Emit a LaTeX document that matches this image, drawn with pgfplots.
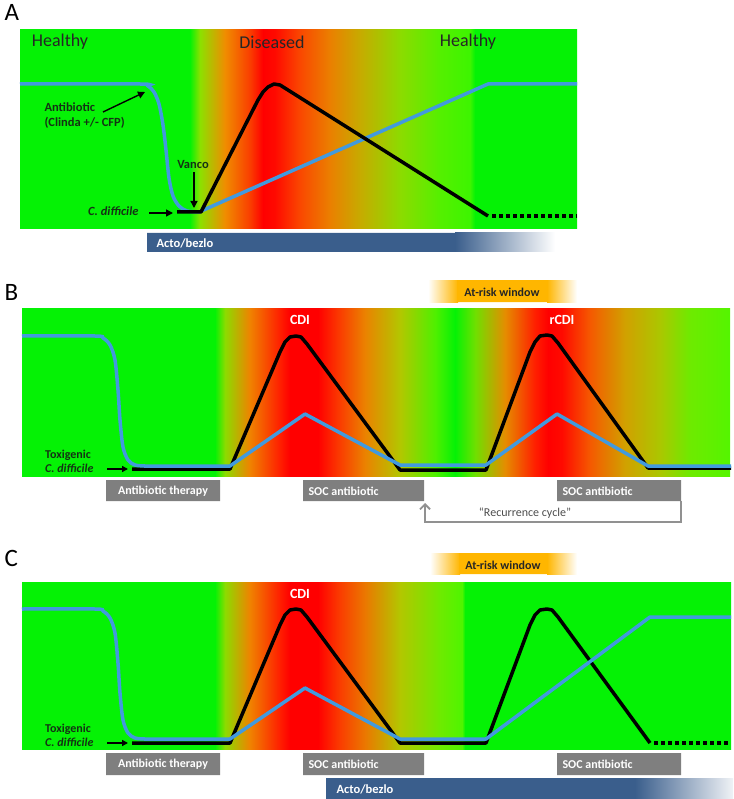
\documentclass[border=0pt]{standalone}
\usepackage{fontspec}
\setmainfont{Carlito}
\usepackage{pgfplots}
\pgfplotsset{compat=1.18}
\usetikzlibrary{arrows.meta}
\definecolor{lblue}{RGB}{66,154,222}
\definecolor{boxgray}{RGB}{127,127,127}
\definecolor{actob}{RGB}{58,94,140}
\definecolor{riskor}{RGB}{255,182,0}
\definecolor{txtdk}{RGB}{20,50,20}
\definecolor{recgray}{RGB}{145,145,145}

\pgfdeclarehorizontalshading{shA}{100bp}{%
rgb(0bp)=(0.02,0.95,0.02); rgb(25bp)=(0.02,0.95,0.02); rgb(40.26bp)=(0.02,0.95,0.02);
rgb(41.16bp)=(0.55,0.88,0.0); rgb(43.4bp)=(0.94,0.55,0.0); rgb(45.65bp)=(0.98,0.24,0.0);
rgb(46.81bp)=(1,0,0); rgb(47.89bp)=(1,0.04,0); rgb(50.13bp)=(0.98,0.28,0.0);
rgb(52.83bp)=(0.92,0.5,0.0); rgb(55.52bp)=(0.78,0.67,0.0); rgb(59.11bp)=(0.55,0.86,0.0);
rgb(62.70bp)=(0.33,0.94,0.0); rgb(65.39bp)=(0.24,0.96,0.0); rgb(65.84bp)=(0.02,0.95,0.02);
rgb(75bp)=(0.02,0.95,0.02); rgb(100bp)=(0.02,0.95,0.02)}

\pgfdeclarehorizontalshading{shB}{100bp}{%
rgb(0bp)=(0.02,0.95,0.02); rgb(25bp)=(0.02,0.95,0.02); rgb(38.63bp)=(0.02,0.95,0.02);
rgb(39.34bp)=(0.55,0.86,0.0); rgb(41.10bp)=(0.94,0.51,0.0); rgb(43.22bp)=(1,0.12,0);
rgb(43.93bp)=(1,0,0); rgb(45.90bp)=(1,0,0); rgb(47.46bp)=(0.98,0.24,0);
rgb(49.22bp)=(0.92,0.51,0); rgb(51.69bp)=(0.7,0.78,0); rgb(54.17bp)=(0.31,0.94,0);
rgb(55.58bp)=(0.02,0.95,0.02); rgb(56.99bp)=(0.43,0.88,0); rgb(59.11bp)=(0.9,0.55,0);
rgb(61.23bp)=(1,0.12,0); rgb(62.15bp)=(1,0,0); rgb(63.14bp)=(1,0.04,0);
rgb(65.11bp)=(0.96,0.35,0); rgb(67.58bp)=(0.82,0.63,0); rgb(70.06bp)=(0.67,0.78,0);
rgb(72.18bp)=(0.43,0.92,0); rgb(75bp)=(0.33,0.96,0); rgb(100bp)=(0.33,0.96,0)}

\pgfdeclarehorizontalshading{shC}{100bp}{%
rgb(0bp)=(0.02,0.95,0.02); rgb(25bp)=(0.02,0.95,0.02); rgb(38.61bp)=(0.02,0.95,0.02);
rgb(39.32bp)=(0.55,0.86,0.0); rgb(41.08bp)=(0.94,0.51,0.0); rgb(43.19bp)=(1,0.12,0);
rgb(43.90bp)=(1,0,0); rgb(45.87bp)=(1,0,0); rgb(47.43bp)=(0.98,0.24,0);
rgb(49.19bp)=(0.92,0.47,0); rgb(51.66bp)=(0.7,0.78,0); rgb(54.48bp)=(0.43,0.92,0);
rgb(56.03bp)=(0.31,0.96,0); rgb(56.24bp)=(0.02,0.95,0.02);
rgb(75bp)=(0.02,0.95,0.02); rgb(100bp)=(0.02,0.95,0.02)}

\begin{document}
\begin{tikzpicture}
\begin{axis}[scale only axis, width=733pt, height=799pt,
  xmin=0, xmax=733, ymin=0, ymax=799, y dir=reverse,
  hide axis, clip=false]
\addplot[draw=none] coordinates {(0,0)(733,799)};

% ================= Panel A =================
\addplot[draw=none, shading=shA] coordinates {(20,30)(577,30)(577,229)(20,229)(20,30)};
% Acto/bezlo bar
\addplot[draw=none, fill=actob] coordinates {(147,233)(456,233)(456,252)(147,252)(147,233)};
\addplot[draw=none, left color=actob, right color=white] coordinates {(455,233)(555,233)(555,252)(455,252)(455,233)};
% blue curve
\addplot[lblue, line width=3.5pt, smooth, tension=0.5] coordinates {
(20,84)(140,84)(148,86)(154,92)(159,104)(163,125)(166,150)(169,178)(173,196)(179,206)(187,211)(200,212)};
\addplot[lblue, line width=3.5pt, line join=round] coordinates {(199,212)(488,84)(577,84)};
% black curve
\addplot[black, line width=3.5pt, line join=round] coordinates {
(177,212)(201,212)(258,100)(263,92)(268,87)(274,84)(280,85)(488,216)};
\addplot[black, line width=3.5pt, dash pattern=on 3.5pt off 3.5pt] coordinates {(492,216)(577,216)};
% arrows
\addplot[black, line width=1.4pt, -{Triangle[length=7pt,width=7pt]}] coordinates {(103,112)(145,92)};
\addplot[black, line width=1.4pt, -{Triangle[length=7pt,width=7pt]}] coordinates {(194,172)(194,208)};
\addplot[black, line width=1.4pt, -{Triangle[length=7pt,width=7pt]}] coordinates {(149,213)(173,213)};
% texts
\node[anchor=west, font=\fontsize{25}{28}\selectfont] at (axis cs:1,12) {A};
\node[text=black!85, font=\fontsize{18}{20}\selectfont] at (axis cs:60,42) {Healthy};
\node[text=black!85, font=\fontsize{18}{20}\selectfont] at (axis cs:272,42) {Diseased};
\node[text=black!85, font=\fontsize{18}{20}\selectfont] at (axis cs:468,42) {Healthy};
\node[anchor=west, text=txtdk, font=\bfseries\fontsize{12.5}{15}\selectfont, align=left] at (axis cs:41,116) {Antibiotic\\(Clinda +/- CFP)};
\node[text=txtdk, font=\bfseries\fontsize{12.5}{15}\selectfont] at (axis cs:193,164) {Vanco};
\node[anchor=east, text=txtdk, font=\bfseries\itshape\fontsize{12.5}{15}\selectfont] at (axis cs:142,211) {C. difficile};
\node[anchor=west, text=white, font=\bfseries\fontsize{12.5}{15}\selectfont] at (axis cs:153,243) {Acto/bezlo};

% ================= Panel B =================
\addplot[draw=none, left color=white, right color=riskor] coordinates {(428,280)(458,280)(458,302)(428,302)(428,280)};
\addplot[draw=none, fill=riskor] coordinates {(457,280)(548,280)(548,302)(457,302)(457,280)};
\addplot[draw=none, left color=riskor, right color=white] coordinates {(547,280)(577,280)(577,302)(547,302)(547,280)};
\node[text=black!85, font=\bfseries\fontsize{12}{14}\selectfont] at (axis cs:502,292) {At-risk window};
\addplot[draw=none, shading=shB] coordinates {(22,308)(730,308)(730,476)(22,476)(22,308)};
% black curve
\addplot[black, line width=3.5pt, line join=round] coordinates {
(132,469)(230,469)(280,352)(285,342)(290,337)(296,336)(301,337)(307,344)(400,470)(486,470)
(530,352)(535,342)(540,336)(547,335)(552,336)(558,343)(648,468)(731,468)};
% blue curve
\addplot[lblue, line width=3.5pt, smooth, tension=0.5] coordinates {
(22,336)(95,336)(103,338)(110,345)(115,360)(118,390)(120,420)(123,447)(128,460)(135,465)(145,466)};
\addplot[lblue, line width=3.5pt, line join=round] coordinates {
(144,466)(230,466)(305,414)(400,465)(486,465)(557,414)(648,466)(731,466)};
% gray boxes
\addplot[draw=none, fill=boxgray] coordinates {(106,480)(220,480)(220,501)(106,501)(106,480)};
\addplot[draw=none, fill=boxgray] coordinates {(303,480)(424,480)(424,501)(303,501)(303,480)};
\addplot[draw=none, fill=boxgray] coordinates {(557,480)(681,480)(681,501)(557,501)(557,480)};
\node[text=white, font=\bfseries\fontsize{12}{14}\selectfont] at (axis cs:163,491) {Antibiotic therapy};
\node[anchor=west, text=white, font=\bfseries\fontsize{12}{14}\selectfont] at (axis cs:305,491) {SOC antibiotic};
\node[anchor=west, text=white, font=\bfseries\fontsize{12}{14}\selectfont] at (axis cs:559,491) {SOC antibiotic};
% recurrence cycle
\addplot[recgray, line width=1.8pt, -{Straight Barb[length=5pt,width=10pt]}] coordinates {(681,501)(681,522)(425,522)(425,503)};
\node[text=black!70, font=\fontsize{12}{14}\selectfont] at (axis cs:525,513) {“Recurrence cycle”};
% texts
\node[anchor=west, font=\fontsize{25}{28}\selectfont] at (axis cs:1,292) {B};
\node[text=white, font=\bfseries\fontsize{14}{16}\selectfont] at (axis cs:300,320) {CDI};
\node[text=white, font=\bfseries\fontsize{14}{16}\selectfont] at (axis cs:562,320) {rCDI};
\node[anchor=west, text=txtdk, font=\bfseries\fontsize{12}{14}\selectfont, align=left, inner sep=0pt] at (axis cs:45,461) {Toxigenic\\\itshape C. difficile};
\addplot[black, line width=1.4pt, -{Triangle[length=6pt,width=6pt]}] coordinates {(107,469)(128,469)};

% ================= Panel C =================
\addplot[draw=none, left color=white, right color=riskor] coordinates {(430,553)(460,553)(460,574)(430,574)(430,553)};
\addplot[draw=none, fill=riskor] coordinates {(459,553)(548,553)(548,574)(459,574)(459,553)};
\addplot[draw=none, left color=riskor, right color=white] coordinates {(547,553)(577,553)(577,574)(547,574)(547,553)};
\node[text=black!85, font=\bfseries\fontsize{12}{14}\selectfont] at (axis cs:503,565) {At-risk window};
\addplot[draw=none, shading=shC] coordinates {(22,582)(731,582)(731,749)(22,749)(22,582)};
% blue curve
\addplot[lblue, line width=3.5pt, smooth, tension=0.5] coordinates {
(22,609)(95,609)(103,611)(110,618)(115,633)(118,663)(120,693)(123,720)(128,733)(135,738)(145,739)};
% black curve
\addplot[black, line width=3.5pt, line join=round] coordinates {
(132,743)(230,743)(280,625)(285,615)(290,610)(296,609)(301,610)(307,617)(400,743)(486,743)
(530,625)(535,615)(540,610)(547,609)(552,610)(558,617)(650,743)};
\addplot[black, line width=3.5pt, dash pattern=on 3.5pt off 3.5pt] coordinates {(654,743)(731,743)};
\addplot[lblue, line width=3.5pt, line join=round] coordinates {
(144,739)(230,739)(305,688)(400,739)(486,739)(650,617)(731,617)};
% gray boxes
\addplot[draw=none, fill=boxgray] coordinates {(106,753)(220,753)(220,775)(106,775)(106,753)};
\addplot[draw=none, fill=boxgray] coordinates {(303,753)(424,753)(424,775)(303,775)(303,753)};
\addplot[draw=none, fill=boxgray] coordinates {(557,753)(681,753)(681,775)(557,775)(557,753)};
\node[text=white, font=\bfseries\fontsize{12}{14}\selectfont] at (axis cs:163,764) {Antibiotic therapy};
\node[anchor=west, text=white, font=\bfseries\fontsize{12}{14}\selectfont] at (axis cs:305,764) {SOC antibiotic};
\node[anchor=west, text=white, font=\bfseries\fontsize{12}{14}\selectfont] at (axis cs:559,764) {SOC antibiotic};
% Acto/bezlo bar
\addplot[draw=none, fill=actob] coordinates {(326,778)(636,778)(636,799)(326,799)(326,778)};
\addplot[draw=none, left color=actob, right color=actob!8] coordinates {(635,778)(733,778)(733,799)(635,799)(635,778)};
\node[anchor=west, text=white, font=\bfseries\fontsize{12.5}{15}\selectfont] at (axis cs:333,789) {Acto/bezlo};
% texts
\node[anchor=west, font=\fontsize{25}{28}\selectfont] at (axis cs:1,558) {C};
\node[text=white, font=\bfseries\fontsize{14}{16}\selectfont] at (axis cs:300,594) {CDI};
\node[anchor=west, text=txtdk, font=\bfseries\fontsize{12}{14}\selectfont, align=left, inner sep=0pt] at (axis cs:45,735) {Toxigenic\\\itshape C. difficile};
\addplot[black, line width=1.4pt, -{Triangle[length=6pt,width=6pt]}] coordinates {(107,743)(128,743)};
\end{axis}
\end{tikzpicture}
\end{document}
